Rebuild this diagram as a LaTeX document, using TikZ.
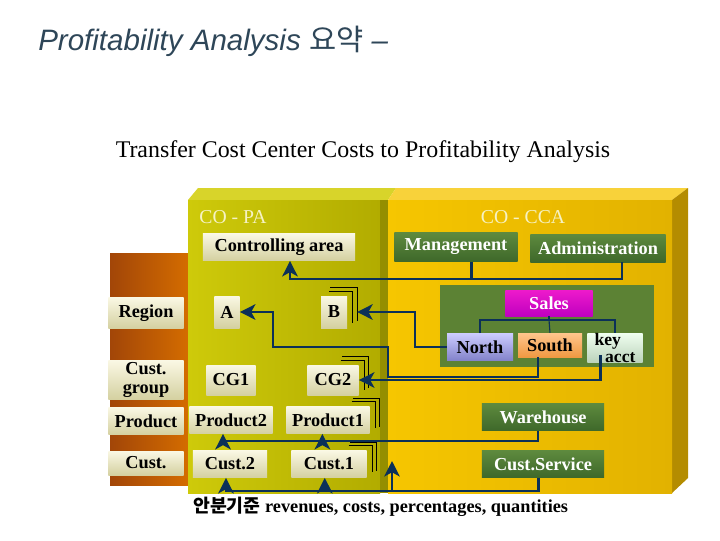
\documentclass[tikz,border=0pt]{standalone}
\usepackage{fontspec}
\setmainfont{Liberation Serif}
\newfontfamily\titlefont{Liberation Sans}
\newfontfamily\krfont{Noto Sans CJK KR}
\usetikzlibrary{arrows.meta}
\definecolor{navy}{HTML}{0B3058}
\definecolor{titlecol}{HTML}{2E4658}
\definecolor{creamtop}{HTML}{FAF8E4}
\definecolor{creambot}{HTML}{D4D0A0}
\definecolor{greentop}{HTML}{5E8A3E}
\definecolor{greenbot}{HTML}{3E682A}
\definecolor{brownL}{HTML}{A24608}
\definecolor{brownR}{HTML}{D46C00}
\definecolor{copaL}{HTML}{CECA0A}
\definecolor{copaR}{HTML}{B2AC00}
\definecolor{copatop}{HTML}{D8D42A}
\definecolor{copaside}{HTML}{948E00}
\definecolor{ccaL}{HTML}{F6C600}
\definecolor{ccaR}{HTML}{E2B200}
\definecolor{ccatop}{HTML}{F8D23A}
\definecolor{ccaside}{HTML}{B48C00}
\definecolor{salesgrp}{HTML}{5C8234}
\definecolor{copatext}{HTML}{F6F2C4}
\newcommand{\cardstack}[1]{%
  \draw[stackline] ([xshift=-13pt,yshift=3pt]#1.north east) -| ([xshift=4pt,yshift=4pt]#1.south east);
  \draw[stackline] ([xshift=-12pt,yshift=5.5pt]#1.north east) -| ([xshift=7pt,yshift=5pt]#1.south east);}

\begin{document}
\begin{tikzpicture}[x=0.025cm,y=-0.025cm,
    pabox/.style={top color=creamtop, bottom color=creambot, inner sep=0pt, align=center,
      font=\bfseries\fontsize{13}{13.5}\selectfont},
    ccabox/.style={top color=greentop, bottom color=greenbot, text=white, inner sep=0pt,
      font=\bfseries\fontsize{13}{13.5}\selectfont},
    flow/.style={draw=navy, line width=2pt, -{Stealth[length=11pt,width=11pt,inset=3pt]}},
    link/.style={draw=navy, line width=2pt},
    thinlink/.style={draw=navy, line width=0.8pt},
    stackline/.style={draw=black, line width=0.7pt}]
  \useasboundingbox (0,0) rectangle (720,540);
  % panels
  \fill[left color=brownL, right color=brownR] (110,253) rectangle (188,485);
  \fill[copatop] (188,200) -- (198,188) -- (396,188) -- (388,200) -- cycle;
  \fill[ccatop] (388,200) -- (396,188) -- (688,188) -- (672,200) -- cycle;
  \fill[ccaside] (672,200) -- (688,188) -- (688,478) -- (672,493) -- cycle;
  \fill[left color=copaL, right color=copaR] (188,200) rectangle (380,493);
  \fill[copaside] (380,200) rectangle (388,493);
  \fill[left color=ccaL, right color=ccaR] (388,200) rectangle (672,493);
  \fill[salesgrp] (440,285) rectangle (654,367);

  \node[anchor=base west, inner sep=0pt, text=titlecol,
    font=\titlefont\itshape\fontsize{21}{24}\selectfont] (title) at (38,50)
    {Profitability Analysis {\krfont 요약} –};
  \node[font=\fontsize{17}{18}\selectfont] (subtitle) at (363,152)
    {Transfer Cost Center Costs to Profitability Analysis};
  \node[text=copatext, font=\fontsize{14}{14}\selectfont] (copa) at (233,217) {CO - PA};
  \node[text=copatext, font=\fontsize{14}{14}\selectfont] (cca) at (523,217) {CO - CCA};

  % CO-PA characteristics
  \node[pabox, minimum width=3.8cm, minimum height=0.68cm] (ctrl) at (279,247) {Controlling area};
  \node[pabox, minimum width=1.88cm, minimum height=0.78cm] (region) at (146,313) {Region};
  \node[pabox, minimum width=0.63cm, minimum height=0.8cm] (A) at (227,312) {A};
  \node[pabox, minimum width=0.65cm, minimum height=0.8cm] (B) at (334,312) {B};
  \node[pabox, minimum width=1.88cm, minimum height=0.98cm] (custgrp) at (146,380) {Cust.\\group};
  \node[pabox, minimum width=1.23cm, minimum height=0.75cm] (CG1) at (231,380) {CG1};
  \node[pabox, minimum width=1.28cm, minimum height=0.75cm] (CG2) at (333,380) {CG2};
  \node[pabox, minimum width=1.88cm, minimum height=0.68cm] (product) at (146,421) {Product};
  \node[pabox, minimum width=2.08cm, minimum height=0.68cm] (prod2) at (231,420) {Product2};
  \node[pabox, minimum width=2.08cm, minimum height=0.68cm] (prod1) at (328,420) {Product1};
  \node[pabox, minimum width=1.88cm, minimum height=0.6cm] (cust) at (146,463) {Cust.};
  \node[pabox, minimum width=1.85cm, minimum height=0.68cm] (cust2) at (230,464) {Cust.2};
  \node[pabox, minimum width=1.88cm, minimum height=0.68cm] (cust1) at (329,464) {Cust.1};
  \cardstack{B}
  \cardstack{CG2}
  \cardstack{prod1}
  \cardstack{cust1}

  % CO-CCA cost centers
  \node[ccabox, minimum width=3.08cm, minimum height=0.73cm] (mgmt) at (456,247) {Management};
  \node[ccabox, minimum width=3.38cm, minimum height=0.7cm] (admin) at (598,248) {Administration};
  \node[ccabox, top color=magenta!70!purple!90, bottom color=magenta!75!black,
    minimum width=2.18cm, minimum height=0.65cm] (sales) at (549,303) {Sales};
  \node[pabox, top color=blue!20, bottom color=blue!40!gray!70,
    minimum width=1.65cm, minimum height=0.68cm] (north) at (480,347) {North};
  \node[pabox, top color=orange!45, bottom color=orange!70!brown!80,
    minimum width=1.6cm, minimum height=0.6cm] (south) at (550,345) {South};
  \node[pabox, top color=green!6, bottom color=green!20!gray!45, align=left,
    font=\bfseries\fontsize{12.5}{12.5}\selectfont,
    minimum width=1.38cm, minimum height=0.73cm] (keyacct) at (615,348) {key\\\hspace*{0.6em}acct};
  \node[ccabox, minimum width=3.05cm, minimum height=0.68cm] (wh) at (543,417) {Warehouse};
  \node[ccabox, minimum width=3.05cm, minimum height=0.68cm] (cs) at (543,464) {Cust.Service};

  % sales tree
  \coordinate (sj) at (549,320);
  \draw[thinlink] (sales.south) -- (sj);
  \draw[thinlink] (north.north) |- (sj) -| (keyacct.north);
  \draw[thinlink] (sj) -- (south.north);

  % allocations
  \coordinate (cj) at (290,279);
  \draw[link] ([xshift=11pt]mgmt.south) -- ([xshift=11pt]mgmt.south |- cj);
  \draw[flow] ([xshift=17pt]admin.south) |- (cj) -- (cj |- ctrl.south);
  \coordinate (bj) at (415,312);
  \draw[flow] (north.west) -| (bj) -- ([xshift=7pt]B.east);
  \draw[flow] ([xshift=-8.5pt]south.south) |- (388,377) |- (273,347) |- (A.east);
  \draw[flow] ([xshift=-10.5pt,yshift=6pt]keyacct.south) |- (CG2.east);
  \coordinate (pbus) at (223,441);
  \draw[flow] ([xshift=-3.5pt]wh.south) |- (pbus) -- (pbus |- prod2.south);
  \draw[flow] ([xshift=-4pt]prod1.south |- pbus) -- ([xshift=-4pt]prod1.south);
  \coordinate (cbus) at (226,491);
  \draw[flow] ([xshift=-3pt]cs.south) |- (cbus) -- (cbus |- cust2.south);
  \draw[flow] ([xshift=-3pt]cust1.south |- cbus) -- ([xshift=-3pt]cust1.south);
  \coordinate (loose) at (392,461);
  \draw[flow] (loose |- cbus) -- (loose);

  \node[anchor=base west, inner sep=0pt, font=\bfseries\fontsize{13}{14}\selectfont] (basis) at (193,512)
    {{\krfont 안분기준} revenues, costs, percentages, quantities};
\end{tikzpicture}
\end{document}
